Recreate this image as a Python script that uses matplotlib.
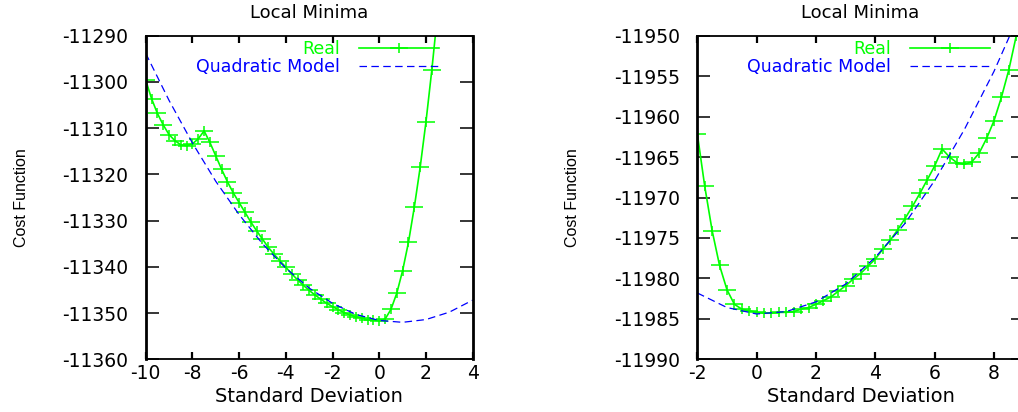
import matplotlib
matplotlib.use("Agg")
import matplotlib.pyplot as plt
from matplotlib.path import Path
from matplotlib import font_manager

# ---------------- data ----------------
left_real_x = [-10.0, -9.75, -9.5, -9.25, -9.0, -8.75, -8.5, -8.25, -8.0, -7.75,
               -7.5, -7.25, -7.0, -6.75, -6.5, -6.25, -6.0, -5.75, -5.5, -5.25,
               -5.0, -4.75, -4.5, -4.25, -4.0, -3.75, -3.5, -3.25, -3.0, -2.75,
               -2.5, -2.25, -2.0, -1.75, -1.5, -1.25, -1.0, -0.75, -0.5, -0.25,
               0.0, 0.25, 0.5, 0.75, 1.0, 1.25, 1.5, 1.75, 2.0, 2.25, 2.5]
left_real_y = [-11299.6, -11303.6, -11306.8, -11309.3, -11311.4, -11312.7, -11313.6,
               -11313.8, -11313.4, -11312.3, -11310.6, -11313.1, -11316.0, -11318.9,
               -11321.6, -11324.0, -11326.1, -11328.2, -11330.3, -11332.2, -11334.0,
               -11335.8, -11337.3, -11338.7, -11340.1, -11341.5, -11342.8, -11344.0,
               -11345.1, -11346.1, -11347.0, -11347.9, -11348.6, -11349.3, -11349.9,
               -11350.4, -11350.8, -11351.1, -11351.4, -11351.5, -11351.7, -11351.3,
               -11349.2, -11345.7, -11340.8, -11334.7, -11327.1, -11318.5, -11308.6,
               -11297.4, -11285.0]
left_model_x = [-10, -9, -8, -7, -6, -5, -4, -3, -2, -1, 0, 1, 2, 3, 4]
left_model_y = [-11293.8, -11304.0, -11313.2, -11321.5, -11328.7, -11335.0, -11340.3,
                -11344.6, -11347.9, -11350.3, -11351.6, -11352.0, -11351.4, -11349.8,
                -11347.2]

right_real_x = [-2.0, -1.75, -1.5, -1.25, -1.0, -0.75, -0.5, -0.25, 0.0, 0.25, 0.5,
                0.75, 1.0, 1.25, 1.5, 1.75, 2.0, 2.25, 2.5, 2.75, 3.0, 3.25, 3.5,
                3.75, 4.0, 4.25, 4.5, 4.75, 5.0, 5.25, 5.5, 5.75, 6.0, 6.25, 6.5,
                6.75, 7.0, 7.25, 7.5, 7.75, 8.0, 8.25, 8.5, 8.75, 9.0]
right_real_y = [-11962.1, -11968.6, -11974.1, -11978.4, -11981.4, -11983.2, -11983.8,
                -11984.0, -11984.2, -11984.3, -11984.3, -11984.2, -11984.2, -11984.1,
                -11983.8, -11983.6, -11983.2, -11982.75, -11982.3, -11981.6, -11980.9,
                -11980.1, -11979.4, -11978.5, -11977.6, -11976.4, -11975.3, -11974.0,
                -11972.6, -11971.1, -11969.5, -11967.8, -11966.1, -11964.0, -11965.0,
                -11965.7, -11965.9, -11965.6, -11964.5, -11962.7, -11960.5, -11957.6,
                -11954.2, -11950.0, -11945.3]
right_model_x = [-2, -1, 0, 1, 2, 3, 4, 5, 6, 7, 8, 9]
right_model_y = [-11981.8, -11983.6, -11984.4, -11984.1, -11982.9, -11980.7, -11977.4,
                 -11973.2, -11967.9, -11961.6, -11954.4, -11946.1]

left_xticks = [-10, -8, -6, -4, -2, 0, 2, 4]
left_yticks = [-11360, -11350, -11340, -11330, -11320, -11310, -11300, -11290]
right_xticks = [-2, 0, 2, 4, 6, 8]
right_yticks = [-11990, -11985, -11980, -11975, -11970, -11965, -11960, -11955, -11950]

title_text = "Local Minima"
xlabel_text = "Standard Deviation"
ylabel_text = "Cost Function"
real_label = "Real"
model_label = "Quadratic Model"

# ---------------- style ----------------
GREEN = "#00ff00"
BLUE = "#0000ff"
plt.rcParams["font.family"] = ["DejaVu Sans"]


def pick_font(names):
    for n in names:
        try:
            font_manager.findfont(n, fallback_to_default=False)
            return n
        except Exception:
            pass
    return "DejaVu Sans"


narrow = pick_font(["Liberation Sans Narrow", "Liberation Sans"])
ylab_size = 14.5 if narrow == "Liberation Sans Narrow" else 11.5

plus = Path([(-1, 0), (1, 0), (0, -0.55), (0, 0.55)],
            [Path.MOVETO, Path.LINETO, Path.MOVETO, Path.LINETO])

W, H = 1018, 412
fig = plt.figure(figsize=(W / 100, H / 100), dpi=100)

ax_l = fig.add_axes([145.7 / W, (H - 359.3) / H, 327.0 / W, 323.6 / H])
ax_r = fig.add_axes([697.3 / W, (H - 359.3) / H, 326.4 / W, 323.6 / H])


def style(ax, xlim, ylim, xticks, yticks, rx, ry, mx, my):
    ax.plot(rx, ry, color=GREEN, lw=1.2, marker=plus, markersize=12.5,
            markeredgewidth=1.1, label=real_label)
    ax.plot(mx, my, color=BLUE, lw=0.9, ls=(0, (6, 3.5)), label=model_label)
    ax.set_xlim(*xlim)
    ax.set_ylim(*ylim)
    ax.set_xticks(xticks)
    ax.set_yticks(yticks)
    ax.set_xticklabels([str(t) for t in xticks])
    ax.set_yticklabels([str(t) for t in yticks])
    ax.tick_params(axis="x", direction="in", length=5, width=1.6, top=True,
                   pad=3.5, labelsize=13.5, colors="black")
    ax.tick_params(axis="y", direction="in", length=9.5, width=1.1, right=True,
                   pad=12.5, labelsize=13.5, colors="black")
    for s in ("left", "right"):
        ax.spines[s].set_linewidth(2.0)
    for s in ("top", "bottom"):
        ax.spines[s].set_linewidth(1.3)
    ax.set_title(title_text, fontsize=13, y=1 + 22.5 / 323.6, va="center", pad=0)
    ax.set_xlabel(xlabel_text, fontsize=14, va="center")
    ax.xaxis.set_label_coords(0.5, -(397 - 359.3) / 323.6)
    ax.set_ylabel(ylabel_text, fontsize=ylab_size, family=narrow, va="center")
    ax.yaxis.set_label_coords(-0.381, 0.5)
    leg = ax.legend(loc="upper right", bbox_to_anchor=(1 - 34 / 327, 1 - 4 / 323.6),
                    frameon=False, markerfirst=False, fontsize=12.5, borderpad=0,
                    borderaxespad=0, handlelength=4.6, handletextpad=1.1,
                    labelspacing=0.0, numpoints=1)
    for t, c in zip(leg.get_texts(), (GREEN, BLUE)):
        t.set_color(c)
    return ax


style(ax_l, (-10, 4), (-11360, -11290), left_xticks, left_yticks,
      left_real_x, left_real_y, left_model_x, left_model_y)
style(ax_r, (-2, 9), (-11990, -11950), right_xticks, right_yticks,
      right_real_x, right_real_y, right_model_x, right_model_y)

fig.savefig("out.png", dpi=100)
